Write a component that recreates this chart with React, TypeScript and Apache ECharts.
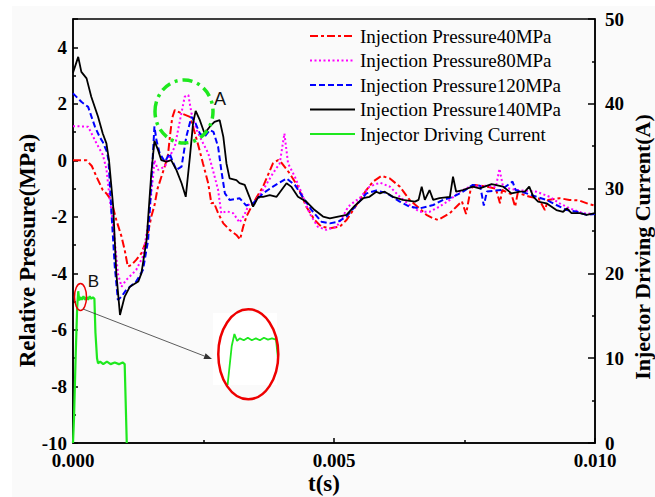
import React, { useEffect, useRef } from "react";
import * as echarts from "echarts";

// time in ms, pressure in MPa
const T40 = [0, 0.26, 0.36, 0.45, 0.57, 0.64, 0.73, 0.83, 0.93, 0.99, 1.05, 1.12, 1.21, 1.31, 1.41, 1.5, 1.56, 1.62, 1.69, 1.76, 1.82, 1.86, 1.9, 1.95, 2.08, 2.24, 2.3, 2.39, 2.49, 2.59, 2.65, 2.7, 2.78, 2.88, 3.0, 3.13, 3.2, 3.26, 3.32, 3.45, 3.64, 3.83, 3.93, 3.98, 4.15, 4.31, 4.47, 4.63, 4.76, 4.92, 5.11, 5.24, 5.43, 5.62, 5.75, 5.91, 6.07, 6.26, 6.45, 6.64, 6.77, 6.9, 6.99, 7.22, 7.34, 7.45, 7.53, 7.62, 7.7, 7.92, 8.1, 8.18, 8.22, 8.4, 8.47, 8.52, 8.75, 8.92, 9.04, 9.1, 9.32, 9.51, 9.7, 9.87, 10];
const P40 = [0, 0, -0.2, -0.58, -1.05, -1.17, -1.4, -2.11, -2.7, -3.17, -3.76, -3.7, -3.52, -3.29, -2.82, -1.99, -1.6, -1.0, -0.6, -0.2, 0.2, 0.9, 1.5, 1.78, 1.66, 1.54, 1.19, 0.6, -0.11, -0.81, -1.52, -1.5, -1.87, -2.23, -2.46, -2.64, -2.8, -2.35, -2.0, -1.52, -0.93, -0.11, 0.01, -0.05, -0.46, -0.93, -1.64, -2.11, -2.35, -2.4, -2.35, -2.11, -1.58, -1.05, -0.75, -0.55, -0.64, -0.93, -1.4, -1.7, -1.93, -2.05, -2.11, -1.87, -1.65, -1.45, -1.9, -1.0, -0.87, -0.93, -1.0, -1.52, -1.05, -1.2, -1.64, -1.15, -1.29, -1.35, -1.76, -1.4, -1.34, -1.4, -1.42, -1.54, -1.6];

const T80 = [0, 0.29, 0.45, 0.57, 0.64, 0.7, 0.75, 0.8, 0.86, 0.93, 1.02, 1.21, 1.34, 1.44, 1.54, 1.56, 1.63, 1.76, 1.85, 1.95, 2.05, 2.14, 2.21, 2.27, 2.37, 2.46, 2.59, 2.68, 2.78, 2.84, 2.94, 3.07, 3.19, 3.29, 3.38, 3.45, 3.64, 3.83, 3.96, 4.05, 4.12, 4.25, 4.37, 4.53, 4.69, 4.85, 5.05, 5.17, 5.27, 5.4, 5.49, 5.68, 5.88, 6.07, 6.26, 6.45, 6.64, 6.83, 7.02, 7.22, 7.41, 7.6, 7.9, 8.1, 8.17, 8.24, 8.5, 8.88, 9.13, 9.32, 9.52, 9.77, 10];
const P80 = [1.21, 1.19, 0.6, 0.2, -0.3, -1.3, -2.0, -2.82, -4.0, -4.47, -4.23, -3.88, -3.4, -2.23, -0.46, 0, -0.34, -0.22, 0.13, 0.48, 1.42, 2.25, 2.31, 1.66, 1.07, 0.72, 0.25, -0.34, -1.05, -1.87, -1.8, -1.87, -2.2, -1.9, -1.52, -1.55, -1.05, -0.46, -0.11, 0.95, -0.11, -0.58, -1.11, -1.87, -2.35, -2.46, -2.35, -1.99, -1.64, -1.45, -1.34, -0.93, -0.79, -0.93, -1.29, -1.58, -1.82, -1.82, -1.64, -1.4, -1.11, -0.93, -0.9, -0.95, -0.3, -0.95, -1.05, -1.11, -1.29, -1.52, -1.7, -1.87, -1.9];

const T120 = [0, 0.16, 0.29, 0.42, 0.51, 0.57, 0.65, 0.68, 0.73, 0.8, 0.86, 0.93, 1.02, 1.21, 1.34, 1.44, 1.5, 1.56, 1.6, 1.66, 1.76, 1.85, 1.9, 1.98, 2.08, 2.17, 2.27, 2.35, 2.43, 2.52, 2.62, 2.69, 2.78, 2.84, 2.91, 3.0, 3.19, 3.32, 3.45, 3.64, 3.83, 4.09, 4.25, 4.44, 4.57, 4.76, 4.92, 5.08, 5.24, 5.43, 5.62, 5.81, 6.0, 6.26, 6.45, 6.64, 6.9, 7.09, 7.28, 7.47, 7.66, 7.8, 7.87, 7.93, 8.2, 8.42, 8.48, 8.69, 8.88, 9.07, 9.26, 9.46, 9.65, 9.84, 10];
const P120 = [2.37, 2.07, 1.89, 1.19, 0.83, 0.65, 0.3, 0, -1.64, -3.76, -4.94, -4.82, -4.58, -4.29, -3.88, -2.82, -0.8, 1.2, 0.7, 0.25, -0.05, 0.25, 0.0, -0.34, -0.22, 0.83, 1.54, 1.3, 0.95, 0.83, 1.07, 1.01, 0.48, -0.34, -1.17, -1.4, -1.34, -1.6, -1.52, -1.17, -0.93, -0.64, -0.87, -1.4, -1.76, -2.17, -2.23, -2.17, -1.99, -1.58, -1.17, -1.07, -1.15, -1.46, -1.64, -1.7, -1.58, -1.4, -1.29, -1.11, -0.87, -0.9, -1.6, -1.1, -1.05, -0.75, -1.05, -1.17, -1.29, -1.4, -1.58, -1.76, -1.82, -1.93, -1.9];

const T140 = [0, 0.1, 0.16, 0.26, 0.35, 0.48, 0.57, 0.64, 0.69, 0.77, 0.83, 0.9, 0.99, 1.09, 1.25, 1.31, 1.41, 1.5, 1.56, 1.63, 1.69, 1.79, 1.88, 1.98, 2.08, 2.16, 2.24, 2.3, 2.35, 2.43, 2.52, 2.62, 2.71, 2.81, 2.88, 2.94, 3.0, 3.13, 3.19, 3.29, 3.38, 3.45, 3.55, 3.64, 3.77, 3.9, 4.09, 4.18, 4.31, 4.47, 4.63, 4.79, 4.92, 5.08, 5.24, 5.4, 5.56, 5.68, 5.81, 5.88, 5.97, 6.13, 6.32, 6.55, 6.62, 6.68, 6.74, 6.83, 6.9, 7.02, 7.22, 7.28, 7.34, 7.47, 7.66, 7.79, 8.02, 8.24, 8.4, 8.56, 8.66, 8.74, 8.82, 8.91, 9.07, 9.26, 9.39, 9.46, 9.55, 9.71, 9.84, 10];
const P140 = [3.1, 3.66, 3.13, 2.9, 2.25, 1.54, 0.95, 0.6, 0.0, -1.64, -4.0, -5.47, -4.82, -4.47, -4.29, -4.0, -2.82, -0.46, 0.69, 0.36, 0.01, -0.05, 0.01, -0.34, -0.81, -1.29, 0.13, 1.31, 1.75, 1.42, 0.95, 1.19, 1.36, 1.42, 0.83, -0.11, -0.64, -0.7, -0.81, -0.87, -1.29, -1.64, -1.29, -1.29, -1.23, -1.29, -0.81, -0.93, -1.29, -1.46, -1.76, -1.99, -2.05, -1.99, -1.93, -1.6, -1.34, -1.29, -1.11, -1.17, -1.11, -1.29, -1.4, -1.46, -1.4, -0.93, -1.4, -1.05, -1.4, -1.34, -1.29, -0.58, -1.11, -1.05, -0.93, -0.99, -0.84, -0.93, -1.17, -1.11, -1.1, -0.93, -1.29, -1.46, -1.52, -1.76, -1.82, -1.7, -1.87, -1.87, -1.93, -1.87];

// injector driving current: time in ms, current in A
const TCUR = [0, 0.02, 0.05, 0.08, 0.1, 0.12, 0.14, 0.17, 0.2, 0.23, 0.26, 0.29, 0.32, 0.35, 0.38, 0.41, 0.43, 0.46, 0.48, 0.52, 0.58, 0.65, 0.72, 0.8, 0.88, 0.95, 0.99, 1.03];
const ICUR = [0, 3, 10, 16, 17.9, 16.8, 17.2, 16.9, 17.3, 16.9, 17.2, 16.9, 17.3, 17.0, 17.2, 17.0, 13, 10, 9.4, 9.6, 9.3, 9.6, 9.3, 9.5, 9.3, 9.5, 9.3, 0];

const NAMES = [
  "Injection Pressure40MPa",
  "Injection Pressure80MPa",
  "Injection Pressure120MPa",
  "Injection Pressure140MPa",
  "Injector Driving Current",
];
const X_LABEL = "t(s)";
const Y_LABEL = "Relative Pressure(MPa)";
const Y2_LABEL = "Injector Driving Current(A)";

const toData = (t: number[], v: number[]) => t.map((x, i) => [x / 1000, v[i]]);

const GREEN = "#1ee81e";
const SERIF = "'Liberation Serif', 'Times New Roman', serif";

export default function App() {
  const ref = useRef<HTMLDivElement>(null);
  useEffect(() => {
    if (!ref.current) return;
    const chart = echarts.init(ref.current, undefined, { renderer: "svg" });
    const tickLabel = {
      fontFamily: SERIF,
      fontWeight: "bold" as const,
      fontSize: 19,
      lineHeight: 14,
      color: "#000",
    };
    const axisLine = { show: true, onZero: false, lineStyle: { color: "#000", width: 1.5 } };
    const ax = 212, ay = 359, bx = 83, by = 309;
    const dx = ax - bx, dy = ay - by;
    const len = Math.sqrt(dx * dx + dy * dy);
    const ux = dx / len, uy = dy / len;
    const hb = { x: ax - ux * 8, y: ay - uy * 8 };
    const option: any = {
      animation: false,
      backgroundColor: "transparent",
      legend: {
        orient: "vertical",
        left: 309,
        top: 26,
        padding: 0,
        itemWidth: 45,
        itemHeight: 20,
        itemGap: 4.5,
        itemStyle: { opacity: 0 },
        textStyle: { fontFamily: SERIF, fontSize: 19, color: "#000", lineHeight: 20 },
        data: NAMES,
      },
      grid: [
        { left: 73, right: 60, top: 19, bottom: 54, show: true, borderColor: "#000", borderWidth: 1.5, backgroundColor: "transparent" },
        { left: 227.7, width: 48.3, top: 332.7, height: 51.3 },
      ],
      xAxis: [
        {
          gridIndex: 0,
          type: "value",
          min: 0,
          max: 0.01,
          interval: 0.005,
          axisLine,
          axisTick: { show: true, inside: true, length: 5, lineStyle: { color: "#000", width: 1.5 } },
          minorTick: { show: true, splitNumber: 2, length: 3, lineStyle: { color: "#000", width: 1.5 } },
          splitLine: { show: false },
          axisLabel: { ...tickLabel, margin: 10, formatter: (v: number) => v.toFixed(3) },
        },
        { gridIndex: 1, type: "value", min: 0.00005, max: 0.00041, show: false },
      ],
      yAxis: [
        {
          gridIndex: 0,
          type: "value",
          min: -10,
          max: 5,
          interval: 2,
          axisLine,
          axisTick: { show: true, inside: true, length: 5, lineStyle: { color: "#000", width: 1.5 } },
          minorTick: { show: true, splitNumber: 2, length: 3, lineStyle: { color: "#000", width: 1.5 } },
          splitLine: { show: false },
          axisLabel: { ...tickLabel, margin: 6, formatter: (v: number) => (v > 4.5 ? "" : String(v)) },
        },
        {
          gridIndex: 0,
          type: "value",
          position: "right",
          min: 0,
          max: 50,
          interval: 10,
          axisLine,
          axisTick: { show: true, inside: true, length: 7, lineStyle: { color: "#000", width: 1.5 } },
          minorTick: { show: true, splitNumber: 2, length: 3, lineStyle: { color: "#000", width: 1.5 } },
          splitLine: { show: false },
          axisLabel: { ...tickLabel, margin: 10 },
        },
        { gridIndex: 1, type: "value", min: 10, max: 18.1, show: false },
      ],
      series: [
        { name: NAMES[0], type: "line", data: toData(T40, P40), symbol: "none", lineStyle: { color: "#ff0000", width: 2, type: [8, 3, 3, 3] }, itemStyle: { color: "#ff0000" }, z: 3 },
        { name: NAMES[1], type: "line", data: toData(T80, P80), symbol: "none", lineStyle: { color: "#ff00ff", width: 2, type: [2, 2.5] }, itemStyle: { color: "#ff00ff" }, z: 4 },
        { name: NAMES[2], type: "line", data: toData(T120, P120), symbol: "none", lineStyle: { color: "#0000ff", width: 2, type: [6, 3] }, itemStyle: { color: "#0000ff" }, z: 5 },
        { name: NAMES[3], type: "line", data: toData(T140, P140), symbol: "none", lineStyle: { color: "#000000", width: 1.8, type: "solid" }, itemStyle: { color: "#000000" }, z: 6 },
        { name: NAMES[4], type: "line", yAxisIndex: 1, data: toData(TCUR, ICUR), symbol: "none", lineStyle: { color: GREEN, width: 2.2 }, itemStyle: { color: GREEN }, z: 7 },
        { name: "inset", type: "line", xAxisIndex: 1, yAxisIndex: 2, data: toData(TCUR, ICUR), symbol: "none", lineStyle: { color: GREEN, width: 1.8 }, itemStyle: { color: GREEN }, clip: true, z: 9 },
      ],
      graphic: [
        { type: "rect", z: 1, silent: true, shape: { x: 213, y: 313, width: 64, height: 72 }, style: { fill: "#ffffff" } },
        { type: "ellipse", z: 10, silent: true, shape: { cx: 248.3, cy: 354.3, rx: 30, ry: 45 }, style: { fill: "none", stroke: "#ee0000", lineWidth: 2.5 } },
        { type: "ellipse", z: 10, silent: true, shape: { cx: 80.5, cy: 297, rx: 6, ry: 13.5 }, style: { fill: "none", stroke: "#ee0000", lineWidth: 1.5 } },
        { type: "ellipse", z: 10, silent: true, shape: { cx: 184, cy: 111.5, rx: 29, ry: 31.5 }, style: { fill: "none", stroke: GREEN, lineWidth: 3.5, lineDash: [10, 5, 3, 5] } },
        { type: "line", z: 10, silent: true, shape: { x1: bx, y1: by, x2: hb.x, y2: hb.y }, style: { stroke: "#333", lineWidth: 0.8 } },
        { type: "polygon", z: 10, silent: true, shape: { points: [[ax, ay], [hb.x - uy * 3, hb.y + ux * 3], [hb.x + uy * 3, hb.y - ux * 3]] }, style: { fill: "#333" } },
        { type: "text", z: 10, silent: true, x: 220, y: 99, style: { text: "A", fontFamily: "'Liberation Sans', Arial, sans-serif", fontSize: 18, fill: "#111", textAlign: "center", textVerticalAlign: "middle" } },
        { type: "text", z: 10, silent: true, x: 93.5, y: 281, style: { text: "B", fontFamily: "'Liberation Sans', Arial, sans-serif", fontSize: 17, fill: "#111", textAlign: "center", textVerticalAlign: "middle" } },
        { type: "text", z: 10, silent: true, x: 27, y: 250.5, rotation: Math.PI / 2, style: { text: Y_LABEL, fontFamily: SERIF, fontWeight: "bold", fontSize: 23, fill: "#000", textAlign: "center", textVerticalAlign: "middle" } },
        { type: "text", z: 10, silent: true, x: 642, y: 247, rotation: Math.PI / 2, style: { text: Y2_LABEL, fontFamily: SERIF, fontWeight: "bold", fontSize: 22, fill: "#000", textAlign: "center", textVerticalAlign: "middle" } },
        { type: "text", z: 10, silent: true, x: 324, y: 483, style: { text: X_LABEL, fontFamily: SERIF, fontWeight: "bold", fontSize: 23, fill: "#000", textAlign: "center", textVerticalAlign: "middle" } },
      ],
    };
    chart.setOption(option);
    return () => chart.dispose();
  }, []);
  return (
    <div style={{ position: "fixed", left: 0, top: 0, width: 655, height: 497, background: "#ffffff", overflow: "hidden" }}>
      <div style={{ position: "absolute", left: 12, top: 6, right: 0, bottom: 0, background: "#fafafa" }} />
      <div ref={ref} style={{ position: "absolute", left: 0, top: 0, width: 655, height: 497 }} />
    </div>
  );
}
